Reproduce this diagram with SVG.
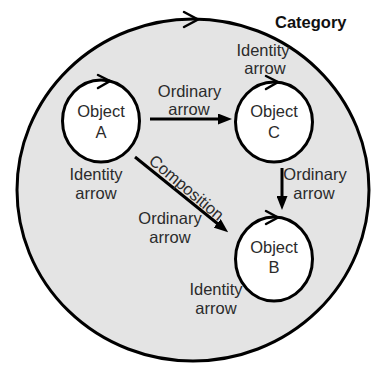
<svg xmlns="http://www.w3.org/2000/svg" width="371" height="365" viewBox="0 0 371 365">
  <style>
    .obj { fill: #ffffff; stroke: #000000; stroke-width: 3; }
    .cat { fill: #e4e4e4; stroke: #000000; stroke-width: 3; }
    .chev { fill: none; stroke: #000000; stroke-width: 2.5; stroke-linecap: round; stroke-linejoin: miter; }
    .edge { fill: none; stroke: #000000; stroke-width: 3; }
    .lbl { font-family: "Liberation Sans", Arial, sans-serif; font-size: 16.5px; fill: #2b2b2b; text-anchor: middle; }
    .title { font-family: "Liberation Sans", Arial, sans-serif; font-size: 16.5px; font-weight: bold; fill: #111111; }
  </style>
  <defs>
    <marker id="head" markerUnits="userSpaceOnUse" markerWidth="14" markerHeight="11" viewBox="0 0 14 11" refX="1" refY="5.5" orient="auto">
      <path d="M0,0 L14,5.5 L0,11 z" fill="#000000"/>
    </marker>
  </defs>

  <!-- category boundary with its identity loop -->
  <g id="category">
    <ellipse class="cat" cx="193" cy="190" rx="176" ry="171"/>
    <polyline class="chev" points="184,12 198,19.5 184,27"/>
    <text class="title" x="275" y="28">Category</text>
  </g>

  <!-- objects -->
  <g id="objectA">
    <ellipse class="obj" cx="101" cy="121" rx="38.5" ry="41"/>
    <polyline class="chev" points="98,75 110,81 98,88"/>
    <text class="lbl" x="101" y="117">Object</text>
    <text class="lbl" x="101" y="138">A</text>
  </g>
  <g id="objectC">
    <ellipse class="obj" cx="274" cy="122" rx="38.5" ry="40"/>
    <polyline class="chev" points="266,76 278,82 266,89"/>
    <text class="lbl" x="274" y="117">Object</text>
    <text class="lbl" x="274" y="138">C</text>
  </g>
  <g id="objectB">
    <ellipse class="obj" cx="274" cy="259" rx="38.5" ry="42"/>
    <polyline class="chev" points="266,211 278,217.5 266,224"/>
    <text class="lbl" x="274" y="253">Object</text>
    <text class="lbl" x="274" y="273">B</text>
  </g>

  <!-- morphisms between objects -->
  <g id="connectors">
    <line class="edge" x1="150" y1="119" x2="219" y2="119" marker-end="url(#head)"/>
    <line class="edge" x1="282" y1="168" x2="282" y2="197" marker-end="url(#head)"/>
    <line class="edge" x1="135" y1="157" x2="218" y2="224" marker-end="url(#head)"/>
  </g>

  <!-- labels -->
  <g id="labels">
    <text class="lbl" x="189.5" y="97">Ordinary</text>
    <text class="lbl" x="189" y="115">arrow</text>

    <text class="lbl" x="263" y="56">Identity</text>
    <text class="lbl" x="265" y="74">arrow</text>

    <text class="lbl" x="96" y="180">Identity</text>
    <text class="lbl" x="96" y="199">arrow</text>

    <text class="lbl" x="315" y="180">Ordinary</text>
    <text class="lbl" x="314" y="199">arrow</text>

    <text class="lbl" x="170" y="224">Ordinary</text>
    <text class="lbl" x="170" y="243">arrow</text>

    <text class="lbl" x="216" y="295">Identity</text>
    <text class="lbl" x="216" y="314">arrow</text>

    <text class="lbl" transform="translate(183,192) rotate(40)">Composition</text>
  </g>
</svg>
